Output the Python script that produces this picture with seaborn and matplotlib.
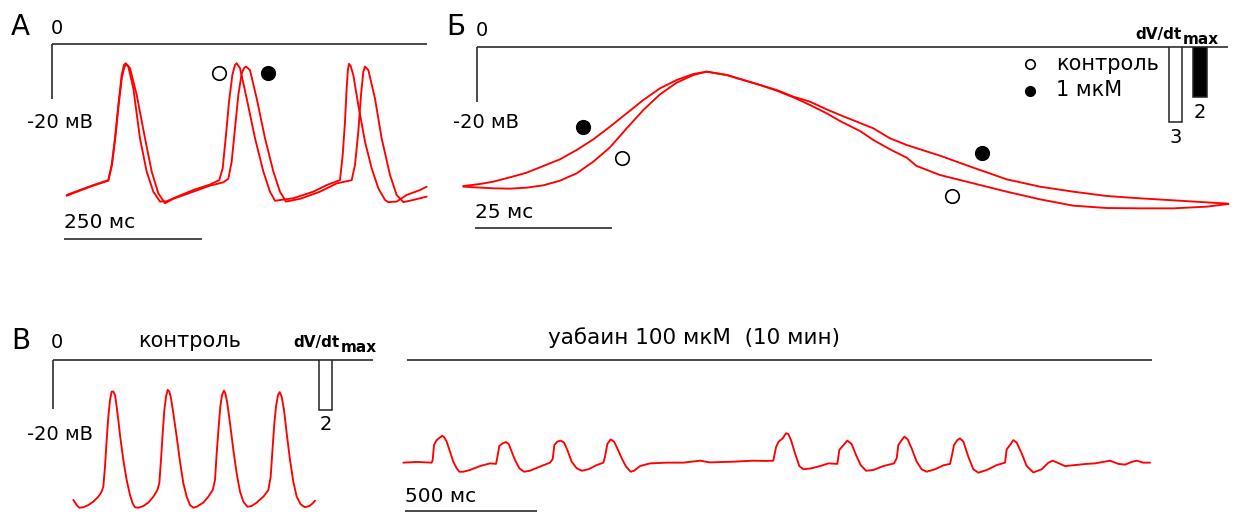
import matplotlib
matplotlib.use("Agg")
import matplotlib.pyplot as plt
import pandas as pd
import seaborn as sns

sns.set_theme(style="white")
plt.rcParams["font.family"] = ["DejaVu Sans"]

# ------------------------------------------------------------------
# Panel А: spontaneous action potentials (time, ms; membrane potential, mV)
a_ctrl_t = [26.6, 50.7, 74.9, 102.1, 108.1, 114.1, 120.2, 126.2, 130.5, 133.5, 138.3, 147.3,
            159.4, 171.5, 183.6, 195.7, 207.7, 219.8, 256.0, 286.2, 303.1, 309.2, 314.6, 320.7,
            326.7, 331.5, 334.5, 340.6, 352.7, 367.8, 382.9, 394.9, 404.0, 437.2, 473.4, 497.6,
            521.7, 526.6, 530.8, 533.8, 536.0, 538.0, 541.0, 545.9, 554.9, 567.0, 579.1, 591.2,
            603.3, 609.3, 624.4, 642.5, 666.7, 678.7]
a_ctrl_v = [-54.9, -53.1, -51.3, -49.5, -44.0, -34.3, -22.2, -11.3, -7.6, -7.0, -8.2, -16.1,
            -34.3, -46.4, -53.7, -57.3, -57.2, -56.1, -53.1, -51.1, -49.5, -45.2, -34.3, -21.0,
            -11.3, -7.6, -7.0, -8.8, -19.8, -34.3, -46.4, -53.7, -57.0, -56.1, -53.7, -51.3,
            -49.5, -40.4, -28.2, -16.1, -9.5, -7.2, -8.0, -11.3, -22.2, -35.5, -45.2, -52.5,
            -56.7, -57.5, -57.3, -54.9, -53.1, -51.9]
a_drug_t = [26.6, 50.7, 74.9, 102.1, 108.6, 114.6, 120.7, 126.7, 131.5, 135.3, 141.3, 153.4,
            168.5, 180.6, 192.6, 204.7, 219.8, 256.0, 286.2, 310.4, 319.4, 325.5, 331.5, 337.6,
            343.6, 348.5, 351.5, 358.7, 370.8, 385.9, 401.0, 413.0, 423.9, 449.3, 485.5, 515.7,
            542.9, 548.9, 554.9, 559.8, 564.0, 567.0, 573.1, 585.1, 597.2, 612.3, 624.4, 636.5,
            654.6, 678.7]
a_drug_v = [-55.2, -53.3, -51.5, -49.7, -44.0, -34.3, -22.2, -12.0, -8.2, -7.4, -8.8, -18.5,
            -34.3, -46.4, -54.3, -57.9, -56.3, -53.7, -51.5, -50.3, -49.0, -42.8, -30.7, -18.5,
            -10.7, -8.6, -8.2, -9.5, -19.8, -34.3, -46.4, -53.7, -57.3, -56.3, -53.7, -50.7,
            -49.5, -44.0, -31.9, -18.5, -10.1, -8.2, -9.5, -19.8, -34.3, -47.6, -54.9, -57.5,
            -56.7, -55.5]
a_mark_t = [303.1, 391.9]
a_mark_v = [-10.65, -10.65]

# Panel Б: single action potential on an expanded time base
b_ctrl_t = [-2.55, 2.93, 5.97, 9.01, 12.05, 15.09, 18.13, 21.17, 24.22, 27.26, 30.3, 33.34,
            36.38, 39.42, 41.86, 45.51, 48.55, 51.59, 54.63, 57.67, 60.71, 63.75, 66.19, 69.84,
            72.27, 75.31, 78.35, 80.18, 84.43, 90.52, 96.6, 102.68, 108.76, 114.85, 120.93,
            127.01, 133.1, 137.05]
b_ctrl_v = [-50.68, -51.28, -51.4, -51.04, -50.19, -48.5, -45.83, -41.59, -36.37, -29.47,
            -22.8, -17.1, -12.86, -10.07, -8.86, -10.07, -11.89, -13.71, -15.77, -18.19, -20.98,
            -24.01, -26.8, -30.44, -33.71, -37.1, -40.13, -43.16, -46.44, -49.47, -52.5, -55.28,
            -57.59, -58.44, -58.56, -58.56, -57.95, -56.98]
b_drug_t = [-2.55, 0.49, 2.93, 5.97, 9.01, 12.05, 15.09, 18.13, 21.17, 24.22, 27.26, 30.3,
            33.34, 36.38, 39.42, 41.86, 45.51, 48.55, 51.59, 54.63, 57.67, 60.71, 63.75, 66.19,
            69.23, 72.27, 75.31, 78.35, 84.43, 90.52, 96.6, 102.68, 108.76, 114.85, 120.93,
            127.01, 133.1, 137.05]
b_drug_v = [-50.44, -49.71, -48.86, -47.28, -45.59, -43.16, -40.74, -37.35, -33.47, -28.86,
            -24.01, -19.16, -14.92, -11.89, -9.71, -8.86, -10.07, -11.89, -13.71, -15.53,
            -17.95, -19.77, -22.55, -24.62, -27.04, -29.47, -33.1, -35.53, -39.41, -43.77,
            -48.01, -50.68, -52.5, -54.07, -54.92, -55.65, -56.38, -56.86]
b_mark_t = [26.35, 86.57, 19.23, 92.04]
b_mark_v = [-40.15, -54.07, -29.1, -38.55]
b_mark_group = ["контроль", "контроль", "1 мкМ", "1 мкМ"]

# Maximal upstroke velocity, V/s
dvdt_groups = ["контроль", "1 мкМ"]
dvdt_b = [3, 2]
dvdt_c = [2]

# Panel В: control (left) and after ouabain (right)
c_ctrl_t = [78.2, 90.8, 100.9, 116.0, 135.0, 153.9, 172.9, 185.5, 191.8, 198.1, 204.4, 210.7,
            217.1, 223.4, 229.7, 236.0, 242.3, 248.6, 254.9, 267.6, 280.2, 292.8, 302.9, 311.8,
            324.4, 343.3, 362.3, 381.2, 396.4, 403.9, 410.2, 416.6, 422.9, 429.2, 435.5, 441.8,
            448.1, 457.0, 469.6, 482.2, 494.9, 507.5, 520.1, 532.7, 545.4, 570.6, 589.5, 606.0,
            614.8, 621.1, 628.7, 635.0, 641.3, 648.9, 653.9, 661.5, 671.6, 684.3, 696.9, 709.5,
            722.1, 737.3, 753.7, 772.6, 797.9, 816.8, 825.7, 833.3, 839.6, 845.9, 853.4, 859.8,
            867.3, 876.2, 886.3, 898.9, 911.5, 924.2, 939.3, 955.7, 972.2, 984.8, 993.6]
c_ctrl_v = [-57.1, -59.2, -60.3, -60.1, -59.2, -57.8, -55.8, -53.7, -51.7, -43.5, -32.7, -23.1,
            -16.3, -12.9, -12.9, -14.3, -19.0, -24.5, -30.6, -40.8, -49.0, -55.1, -58.5, -60.1,
            -60.3, -59.6, -58.2, -55.8, -53.1, -50.3, -40.8, -29.9, -20.4, -15.0, -12.2, -12.9,
            -15.6, -21.8, -31.3, -41.5, -50.3, -55.8, -59.2, -60.3, -59.9, -58.2, -55.8, -53.1,
            -49.0, -38.1, -27.2, -19.0, -14.3, -12.5, -13.6, -17.7, -25.8, -36.7, -46.3, -53.7,
            -57.8, -59.9, -59.6, -58.2, -55.8, -53.1, -47.6, -35.4, -25.8, -19.0, -14.3, -13.1,
            -15.0, -20.4, -29.9, -40.8, -49.7, -55.8, -58.9, -60.1, -59.6, -58.5, -57.4]
c_ouab_t = [-6.3, 44.2, 101.0, 104.8, 109.9, 119.8, 132.6, 141.4, 149.0, 157.8, 170.5, 183.1,
            195.7, 205.8, 221.0, 246.2, 284.1, 322.0, 344.7, 349.8, 357.3, 369.9, 382.6, 392.7,
            404.1, 416.7, 433.1, 450.8, 473.5, 511.4, 549.3, 559.4, 565.7, 577.0, 589.7, 602.3,
            614.9, 631.3, 650.3, 669.2, 694.5, 726.1, 751.3, 757.6, 766.5, 779.1, 791.7, 804.4,
            820.8, 837.2, 854.9, 867.5, 890.2, 928.1, 991.2, 1054.4, 1117.5, 1155.4, 1243.8,
            1319.5, 1370.0, 1395.2, 1405.3, 1415.4, 1430.6, 1443.2, 1452.0, 1462.2, 1477.3,
            1493.7, 1508.9, 1540.4, 1572.0, 1603.6, 1637.7, 1645.2, 1657.9, 1675.5, 1692.0,
            1708.4, 1726.1, 1746.3, 1774.0, 1811.9, 1852.3, 1862.4, 1868.7, 1881.4, 1891.5,
            1904.1, 1919.2, 1938.2, 1957.1, 1976.1, 2007.6, 2039.2, 2064.5, 2072.0, 2079.6,
            2092.2, 2102.3, 2115.0, 2133.9, 2152.8, 2171.8, 2203.4, 2241.2, 2272.8, 2279.1,
            2291.7, 2304.4, 2317.0, 2335.9, 2354.9, 2380.1, 2411.7, 2437.0, 2453.4, 2471.1,
            2500.1, 2538.0, 2582.2, 2613.7, 2645.3, 2670.5, 2702.1, 2727.4, 2752.6, 2771.5,
            2796.8, 2822.1]
c_ouab_v = [-41.9, -41.6, -41.9, -40.8, -34.7, -32.7, -31.6, -30.9, -31.6, -33.3, -37.4, -41.5,
            -44.2, -45.6, -45.6, -44.9, -43.3, -42.2, -42.4, -39.7, -35.1, -34.0, -33.5, -34.3,
            -37.4, -40.8, -44.2, -45.6, -45.2, -43.5, -41.9, -40.5, -34.7, -33.3, -32.9, -33.7,
            -36.7, -41.5, -44.2, -45.2, -44.6, -42.9, -41.9, -39.5, -34.3, -32.4, -33.3, -36.1,
            -40.1, -43.5, -45.6, -45.2, -43.3, -42.2, -41.9, -41.9, -41.1, -41.8, -41.5,
            -41.1, -41.2, -41.1, -35.6, -33.3, -32.0, -29.9, -30.2, -32.7, -38.1,
            -43.3, -44.6, -44.2, -43.3, -42.2, -42.4, -36.7, -35.1, -32.9, -34.3,
            -38.8, -42.9, -45.2, -44.9, -43.3, -42.2, -40.1, -34.7, -32.7, -31.3,
            -32.4, -36.1, -41.5, -44.6, -45.6, -44.6, -43.0, -42.4, -38.8, -34.7,
            -32.7, -32.0, -33.3, -39.5, -44.6, -46.0, -44.9, -42.9, -41.9, -36.5,
            -34.7, -32.7, -33.7, -38.1, -43.3, -45.9, -44.6, -41.9, -41.1, -41.9,
            -43.3, -42.9, -42.4, -42.2, -41.6, -41.1, -42.4, -42.7, -41.6, -41.1,
            -41.9, -41.9]

# Calibration bars
cal_mv = 20
cal_a_ms = 250
cal_b_ms = 25
cal_c_ms = 500

# ------------------------------------------------------------------
W, H = 1240, 514
fig = plt.figure(figsize=(W / 100, H / 100), dpi=100)
fig.patch.set_facecolor("white")

TRACE = "#ff0000"
INK = "#222222"
LW_TRACE = 1.35
LW_INK = 1.15


def panel(left, top, right, bottom, x0, y0, sx, sy):
    """Axes over a pixel box; (x0, y0) is where t=0, V=0 sit, sx/sy are pixels per unit."""
    ax = fig.add_axes([left / W, 1 - bottom / H, (right - left) / W, (bottom - top) / H])
    lims = ((left - x0) / sx, (right - x0) / sx), ((y0 - bottom) / sy, (y0 - top) / sy)
    ax.set_axis_off()
    return ax, lims


def apply(ax, lims):
    ax.set_xlim(*lims[0])
    ax.set_ylim(*lims[1])


def ptext(x, y, s, **kw):
    kw.setdefault("ha", "center")
    kw.setdefault("va", "center")
    kw.setdefault("color", "black")
    fig.text(x / W, 1 - y / H, s, **kw)


def trace(ax, t, v):
    sns.lineplot(x=t, y=v, sort=False, estimator=None, color=TRACE,
                 linewidth=LW_TRACE, ax=ax, legend=False)


def ink(ax, xs, ys):
    ax.plot(xs, ys, color=INK, lw=LW_INK, solid_capstyle="butt", clip_on=False)


MARK = dict(s=95, linewidth=1.2, edgecolor="black", zorder=5)

# ---------------- Panel А ----------------
axA, limA = panel(0, 0, 440, 290, 52, 44, 0.552, 2.75)
trace(axA, a_ctrl_t, a_ctrl_v)
trace(axA, a_drug_t, a_drug_v)
sns.scatterplot(x=a_mark_t[:1], y=a_mark_v[:1], color="white", ax=axA, **MARK)
sns.scatterplot(x=a_mark_t[1:], y=a_mark_v[1:], color="black", ax=axA, **MARK)
ink(axA, [0, 679], [0, 0])
ink(axA, [0, 0], [0, -cal_mv])
ink(axA, [21.7, 21.7 + cal_a_ms], [-70.9, -70.9])
apply(axA, limA)

ptext(20, 27, "А", fontsize=20)
ptext(57, 28, "0", fontsize=14)
ptext(60, 122, "-20 мВ", fontsize=14)
ptext(64, 222, f"{cal_a_ms} мс", fontsize=14.5, ha="left")

# ---------------- Panel Б ----------------
axB, limB = panel(440, 0, 1240, 290, 477.3, 47.3, 5.48, 2.75)
trace(axB, b_ctrl_t, b_ctrl_v)
trace(axB, b_drug_t, b_drug_v)
marks = pd.DataFrame({"t": b_mark_t, "v": b_mark_v, "g": b_mark_group})
for g, face in zip(dvdt_groups, ["white", "black"]):
    sub = marks[marks.g == g]
    sns.scatterplot(x=sub.t, y=sub.v, color=face, ax=axB, label=g, **MARK)
ink(axB, [0, 137.0], [0, 0])
ink(axB, [0, 0], [0, -cal_mv])
ink(axB, [-0.42, -0.42 + cal_b_ms], [-65.7, -65.7])
apply(axB, limB)
leg = axB.legend(loc="upper left", bbox_to_anchor=(1020 / W, 1 - 53.5 / H),
                 bbox_transform=fig.transFigure, frameon=False, fontsize=15,
                 markerscale=0.7, handlelength=1.0, handletextpad=0.72,
                 labelspacing=0.32, borderpad=0, borderaxespad=0)
for txt in leg.get_texts():
    txt.set_color("black")

ptext(456, 27, "Б", fontsize=20)
ptext(482, 31, "0", fontsize=14)
ptext(486, 122, "-20 мВ", fontsize=14)
ptext(475, 212, f"{cal_b_ms} мс", fontsize=14.5, ha="left")
ptext(1182, 34, "dV/dt", fontsize=11, fontweight="bold", ha="right")
ptext(1183, 39, "max", fontsize=11, fontweight="bold", ha="left")


def dvdt_bars(left, top, bottom, groups, values, faces):
    n = len(values)
    step = 24.5
    ax = fig.add_axes([left / W, 1 - bottom / H, n * step / W, (bottom - top) / H])
    sns.barplot(x=groups, y=values, hue=groups, palette=faces, edgecolor=INK,
                linewidth=1.1, width=0.55, legend=False, ax=ax)
    ax.set_xlim(-0.5, n - 0.5)
    ax.set_ylim((bottom - top) / 25.0, 0)
    ax.set_axis_off()
    for i, val in enumerate(values):
        ax.text(i, val + 0.6, f"{val}", ha="center", va="center", fontsize=14,
                color="black")


dvdt_bars(1163.25, 47.3, 170, dvdt_groups, dvdt_b, ["white", "black"])

# ---------------- Panel В ----------------
axC, limC = panel(0, 300, 395, 514, 52.7, 360, 0.264, 2.45)
trace(axC, c_ctrl_t, c_ctrl_v)
ink(axC, [0, 1213], [0, 0])
ink(axC, [0, 0], [0, -cal_mv])
apply(axC, limC)

axD, limD = panel(395, 300, 1240, 514, 405, 360, 0.264, 2.45)
trace(axD, c_ouab_t, c_ouab_v)
ink(axD, [7.6, 2830], [0, 0])
ink(axD, [0, cal_c_ms], [-61.8, -61.8])
apply(axD, limD)

dvdt_bars(313.25, 360, 450, dvdt_groups[:1], dvdt_c, ["white"])

ptext(21, 341, "В", fontsize=20)
ptext(57, 342, "0", fontsize=14)
ptext(190, 341, "контроль", fontsize=15)
ptext(340, 343, "dV/dt", fontsize=11, fontweight="bold", ha="right")
ptext(341, 348, "max", fontsize=11, fontweight="bold", ha="left")
ptext(60, 435, "-20 мВ", fontsize=14)
ptext(694, 338, "уабаин 100 мкМ  (10 мин)", fontsize=15.5)
ptext(405, 497, f"{cal_c_ms} мс", fontsize=14.5, ha="left")

fig.savefig("out.png", dpi=100, facecolor="white")
